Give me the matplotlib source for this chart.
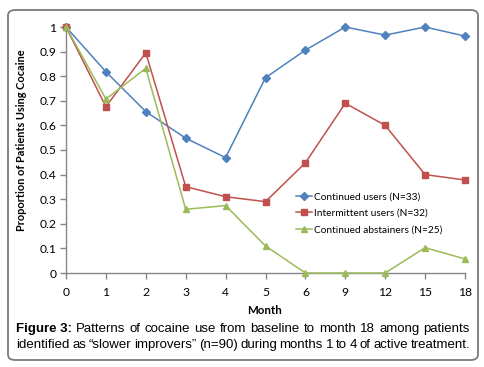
import matplotlib
matplotlib.use("Agg")
import matplotlib.pyplot as plt
from matplotlib.patches import FancyBboxPatch
import numpy as np

# Data
months = ["0", "1", "2", "3", "4", "5", "6", "9", "12", "15", "18"]
continued_users = [1.0, 0.818, 0.656, 0.548, 0.469, 0.794, 0.906, 1.0, 0.967, 1.0, 0.963]
intermittent_users = [1.0, 0.676, 0.895, 0.351, 0.31, 0.29, 0.448, 0.69, 0.60, 0.40, 0.378]
continued_abstainers = [1.0, 0.707, 0.832, 0.259, 0.274, 0.11, 0.0, 0.0, 0.0, 0.103, 0.057]
series_names = ["Continued users (N=33)", "Intermittent users (N=32)", "Continued abstainers (N=25)"]

W, H = 484, 367
fig = plt.figure(figsize=(W / 100, H / 100), dpi=100)
fig.patch.set_facecolor("white")
chart_font = "Lato"

# rounded panel border
panel = FancyBboxPatch((8 / W, 7 / H), 470 / W, 350 / H,
                       boxstyle="round,pad=0,rounding_size=0.015",
                       transform=fig.transFigure, facecolor="none",
                       edgecolor="#7a7a7a", linewidth=1.3, zorder=-1)
fig.patches.append(panel)

ax = fig.add_axes([66 / W, (H - 273) / H, 399 / W, 246 / H])
ax.set_facecolor("none")
x = np.arange(len(months))

ax.plot(x, continued_users, color="#4F81BD", lw=1.1, marker="D", ms=3.6,
        label=series_names[0], clip_on=False, zorder=3)
ax.plot(x, intermittent_users, color="#C0504D", lw=1.1, marker="s", ms=4.6,
        label=series_names[1], clip_on=False, zorder=3)
ax.plot(x, continued_abstainers, color="#9BBB59", lw=1.1, marker="^", ms=5,
        label=series_names[2], clip_on=False, zorder=3)

ax.set_xlim(0, 10)
ax.set_ylim(0, 1)
ax.set_xticks(x)
ax.set_xticklabels(months)
ax.set_yticks(np.arange(0, 1.01, 0.1))
ax.set_yticklabels(["0", "0.1", "0.2", "0.3", "0.4", "0.5", "0.6", "0.7", "0.8", "0.9", "1"])
for s in ["top", "right"]:
    ax.spines[s].set_visible(False)
for s in ["left", "bottom"]:
    ax.spines[s].set_color("#868686")
    ax.spines[s].set_linewidth(1.0)
ax.tick_params(axis="both", color="#868686", length=4, width=1.0,
               labelsize=8.7, labelcolor="black", pad=3)
ax.tick_params(axis="x", pad=6)
for lab in ax.get_xticklabels() + ax.get_yticklabels():
    lab.set_family(chart_font)

ax.set_xlabel("Month", fontsize=8.3, fontweight="bold", family=chart_font)
ax.xaxis.set_label_coords((265 - 66) / 399, -(305 - 273) / 246)
ax.set_ylabel("Proportion of Patients Using Cocaine", fontsize=7.9, fontweight="bold",
              family=chart_font)
ax.yaxis.set_label_coords((27 - 66) / 399, (273 - 140) / 246)

leg = ax.legend(loc="upper left", bbox_to_anchor=(226 / 399, 1 - (188 - 27) / 246),
                frameon=False, handlelength=1.6, handletextpad=0.15,
                labelspacing=0.75, borderaxespad=0, prop={"family": chart_font, "size": 7.3})

# caption, justified across the panel
line1 = [("Figure 3:", "bold"), ("Patterns", "normal"), ("of", "normal"), ("cocaine", "normal"),
         ("use", "normal"), ("from", "normal"), ("baseline", "normal"), ("to", "normal"),
         ("month", "normal"), ("18", "normal"), ("among", "normal"), ("patients", "normal")]
line2 = "identified as \u201cslower improvers\u201d (n=90) during months 1 to 4 of active treatment."

x0, x1 = 16 / W, 470 / W
renderer = fig.canvas.get_renderer()
texts = []
for word, weight in line1:
    t = fig.text(0, 1 - 329 / H, word, fontsize=9.5, fontweight=weight,
                 family="Liberation Sans", va="center", ha="left")
    texts.append(t)
widths = [t.get_window_extent(renderer).width / W for t in texts]
gap = (x1 - x0 - sum(widths)) / (len(texts) - 1)
pos = x0
for t, w in zip(texts, widths):
    t.set_x(pos)
    pos += w + gap

words2 = line2.split(" ")
texts2 = [fig.text(0, 1 - 345 / H, w, fontsize=9.5, family="Liberation Sans",
                   va="center", ha="left") for w in words2]
widths2 = [t.get_window_extent(renderer).width / W for t in texts2]
gap2 = (x1 - x0 - sum(widths2)) / (len(texts2) - 1)
pos = x0
for t, w in zip(texts2, widths2):
    t.set_x(pos)
    pos += w + gap2

fig.savefig("out.png", dpi=100)
